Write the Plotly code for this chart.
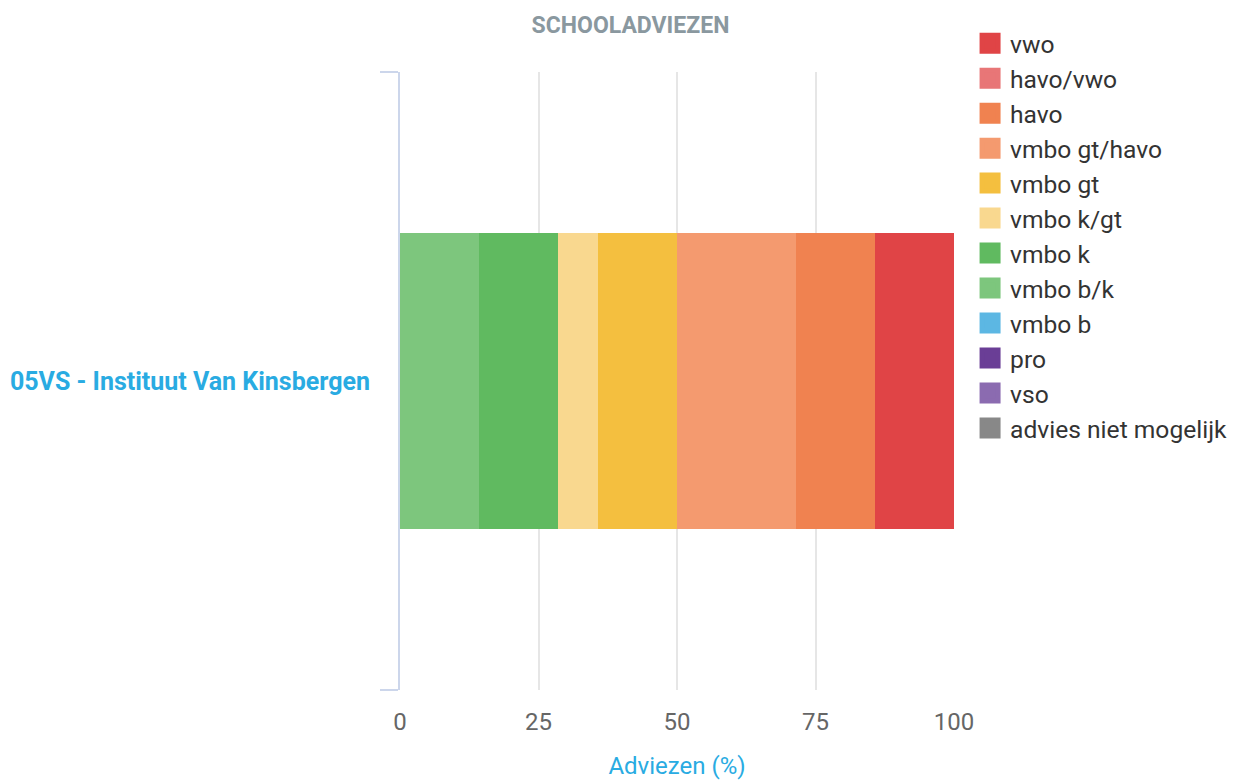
import plotly.graph_objects as go

school = ["05VS - Instituut Van Kinsbergen"]
# stacking order from left to right
categories = ["advies niet mogelijk", "vso", "pro", "vmbo b", "vmbo b/k", "vmbo k",
              "vmbo k/gt", "vmbo gt", "vmbo gt/havo", "havo", "havo/vwo", "vwo"]
values = [0, 0, 0, 0, 14.29, 14.29, 7.14, 14.29, 21.43, 14.29, 0, 14.29]
colors = ["#888888", "#8b6bb0", "#6a3e96", "#5cb7e3", "#7dc67d", "#60ba60",
          "#f9d88f", "#f4bf3f", "#f49a6f", "#f08250", "#e87677", "#e04446"]
x_ticks = [0, 25, 50, 75, 100]

fig = go.Figure()
for name, v, c in zip(categories, values, colors):
    fig.add_trace(go.Bar(
        y=school, x=[v], name=name, orientation="h",
        marker=dict(color=c, line=dict(width=0)),
        showlegend=False, legendgroup=name,
    ))
for name, c in zip(categories, colors):
    fig.add_trace(go.Scatter(
        x=[None], y=[None], mode="markers", name=name, legendgroup=name,
        marker=dict(symbol="square", size=16, color=c, line=dict(width=5, color=c)),
        showlegend=True, hoverinfo="skip",
    ))

fig.update_layout(
    width=1245, height=780,
    barmode="stack", bargap=0.52,
    paper_bgcolor="white", plot_bgcolor="white",
    font=dict(family="Roboto", color="#333333"),
    margin=dict(l=392, r=299, t=64, b=98, autoexpand=False),
    title=dict(text="SCHOOLADVIEZEN", x=0.5, xanchor="center", xref="container",
               y=1 - 17 / 780, yanchor="middle", yref="container",
               font=dict(family="Roboto", size=23, color="#8a989f", weight="bold")),
    legend=dict(x=1.029, xanchor="left", y=1.083, yanchor="top",
                traceorder="reversed", font=dict(size=24.6, color="#333333"),
                bgcolor="rgba(0,0,0,0)", maxheight=760),
    xaxis=dict(range=[0, 100], tickvals=x_ticks, showgrid=True, gridcolor="#e6e6e6",
               gridwidth=1.5, zeroline=False, showline=False, ticks="",
               ticklabelstandoff=15, automargin=False,
               tickfont=dict(size=24, color="#666666"),
               title=dict(text="Adviezen (%)", font=dict(size=24, color="#29abe2"), standoff=22),
               fixedrange=True),
    yaxis=dict(type="category", showline=True, linecolor="#ccd6eb", linewidth=2,
               ticks="outside", ticklen=18, tickcolor="#ccd6eb", tickwidth=2,
               tickson="boundaries", ticklabelstandoff=23, showgrid=False,
               automargin=False,
               tickfont=dict(size=25, color="#29abe2", weight="bold")),
)

fig.write_html("out.html")
